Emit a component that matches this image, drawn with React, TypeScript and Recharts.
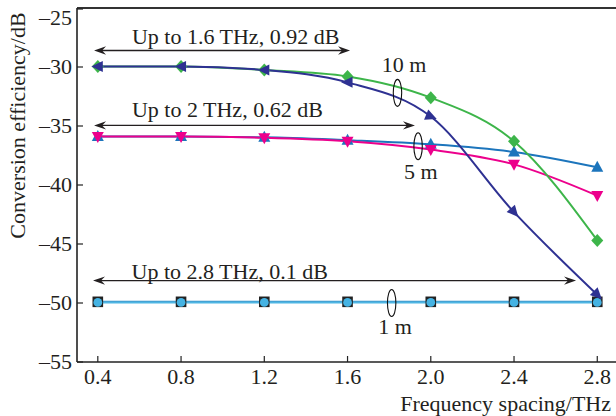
import React from 'react';
import { LineChart, Line, XAxis, YAxis, ReferenceLine, ReferenceDot } from 'recharts';

const freq = [0.4, 0.8, 1.2, 1.6, 2.0, 2.4, 2.8];
const green10m = [-29.95, -29.95, -30.25, -30.8, -32.6, -36.3, -44.7];
const navy10m = [-29.95, -29.95, -30.25, -31.3, -34.2, -42.3, -49.3];
const blue5m = [-35.9, -35.9, -35.95, -36.2, -36.55, -37.2, -38.5];
const magenta5m = [-35.9, -35.9, -36.0, -36.3, -37.0, -38.25, -40.9];
const square1m = [-49.9, -49.9, -49.9, -49.9, -49.9, -49.9, -49.9];
const circle1m = [-49.95, -49.95, -49.95, -49.95, -49.95, -49.95, -49.95];

const yTicks = [-55, -50, -45, -40, -35, -30, -25];

const arrows = [
  { x1: 0.382, x2: 1.612, y: -28.6 },
  { x1: 0.382, x2: 1.924, y: -34.95 },
  { x1: 0.377, x2: 2.698, y: -48.1 },
];
const notes = [
  { text: 'Up to 1.6 THz, 0.92 dB', x: 0.564, y: -28.02 },
  { text: 'Up to 2 THz, 0.62 dB', x: 0.564, y: -34.24 },
  { text: 'Up to 2.8 THz, 0.1 dB', x: 0.562, y: -47.93 },
  { text: '10 m', x: 1.764, y: -30.42 },
  { text: '5 m', x: 1.871, y: -39.46 },
  { text: '1 m', x: 1.748, y: -52.6 },
];
const rings = [
  { x: 1.84, y: -32.19 },
  { x: 1.939, y: -36.72 },
  { x: 1.812, y: -50.0 },
];

const data = freq.map((f, i) => ({
  f,
  g: green10m[i],
  n: navy10m[i],
  b: blue5m[i],
  m: magenta5m[i],
  s: square1m[i],
  c: circle1m[i],
}));

const FONT = '"Liberation Serif", "Times New Roman", serif';
const FS = 22;
const TXT = '#231F20';

const GREEN = '#3DB54A';
const NAVY = '#2E3192';
const BLUE = '#1C75BC';
const MAGENTA = '#EC008C';
const LBLUE1 = '#3A8EC4';
const LBLUE2 = '#4FB6E3';

const TM = 4;
const fmt = (v: number) => (v < 0 ? '\u2013' + Math.abs(v) : String(v));

const YTick = (p: any) => {
  const ax = p.x + TM;
  const v = p.payload.value;
  const off = v === -25 ? 9 : 0;
  return (
    <g>
      <line x1={ax} x2={ax + 6} y1={p.y} y2={p.y} stroke="#222" strokeWidth={1.2} />
      <text x={ax - 5} y={p.y + 7.4 + off} textAnchor="end" fontFamily={FONT} fontSize={FS} fill={TXT}>
        {fmt(v)}
      </text>
    </g>
  );
};

const XTick = (p: any) => {
  const ay = p.y - TM;
  const v = p.payload.value;
  return (
    <g>
      <line x1={p.x} x2={p.x} y1={ay} y2={ay - 6} stroke="#222" strokeWidth={1.2} />
      <text x={p.x} y={ay + 22} textAnchor="middle" fontFamily={FONT} fontSize={FS} fill={TXT}>
        {v.toFixed(1)}
      </text>
    </g>
  );
};

const Diamond = (p: any) => {
  const { cx, cy } = p;
  if (cx == null || cy == null) return null;
  return <path d={`M${cx},${cy - 6.5}L${cx + 6},${cy}L${cx},${cy + 6.5}L${cx - 6},${cy}Z`} fill={GREEN} />;
};

const prevNavy: { x: number; y: number } = { x: 0, y: 0 };
const NavyMark = (p: any) => {
  const { cx, cy, index } = p;
  if (cx == null || cy == null) return null;
  let angle = 180;
  if (index >= 4) {
    angle = (Math.atan2(cy - prevNavy.y, cx - prevNavy.x) * 180) / Math.PI;
  }
  prevNavy.x = cx;
  prevNavy.y = cy;
  return (
    <path
      d={`M${cx + 6.5},${cy}L${cx - 5},${cy - 5.5}L${cx - 5},${cy + 5.5}Z`}
      transform={`rotate(${angle} ${cx} ${cy})`}
      fill={NAVY}
    />
  );
};
const UpTri = (p: any) => {
  const { cx, cy } = p;
  if (cx == null || cy == null) return null;
  return <path d={`M${cx},${cy - 6.5}L${cx + 6},${cy + 4.5}L${cx - 6},${cy + 4.5}Z`} fill={BLUE} />;
};
const DownTri = (p: any) => {
  const { cx, cy } = p;
  if (cx == null || cy == null) return null;
  return <path d={`M${cx},${cy + 6.5}L${cx + 6},${cy - 4.5}L${cx - 6},${cy - 4.5}Z`} fill={MAGENTA} />;
};
const Square = (p: any) => {
  const { cx, cy } = p;
  if (cx == null || cy == null) return null;
  return <rect x={cx - 5.3} y={cy - 5.3} width={10.6} height={10.6} fill="#222" />;
};
const Circle = (p: any) => {
  const { cx, cy } = p;
  if (cx == null || cy == null) return null;
  return <circle cx={cx} cy={cy} r={4.4} fill="#45B3E3" />;
};

const ArrowShape = (p: any) => {
  const { x1, y1, x2, y2 } = p;
  if (x1 == null) return null;
  const L = 12;
  const W = 4.2;
  const head = (tx: number, ty: number, dir: number) =>
    `M${tx},${ty}L${tx - dir * L},${ty - W}L${tx - dir * (L - 4)},${ty}L${tx - dir * L},${ty + W}Z`;
  return (
    <g>
      <line x1={x1 + 4} y1={y1} x2={x2 - 4} y2={y2} stroke={TXT} strokeWidth={1.3} />
      <path d={head(x1, y1, -1)} fill={TXT} />
      <path d={head(x2, y2, 1)} fill={TXT} />
    </g>
  );
};

const YLabel = () => (
  <text x={25} y={125.5} transform="rotate(-90 25 125.5)" textAnchor="middle" fontFamily={FONT} fontSize={FS} fill={TXT}>
    Conversion efficiency/dB
  </text>
);

export default function App() {
  return (
    <div style={{ position: 'absolute', left: 0, top: 0, width: 616, height: 416, background: '#fff' }}>
      <LineChart width={616} height={416} data={data} margin={{ top: 8, right: 0, bottom: 0, left: 0 }}>
        <XAxis
          type="number"
          dataKey="f"
          domain={[0.3, 2.89]}
          ticks={freq}
          allowDataOverflow
          height={54}
          tickSize={0}
          tickMargin={TM}
          tick={<XTick />}
          axisLine={{ stroke: '#222', strokeWidth: 1.6 }}
          tickLine={false}
          label={{ value: 'Frequency spacing/THz', position: 'insideBottomRight', offset: 5, style: { fontFamily: FONT, fontSize: FS, fill: TXT } }}
        />
        <YAxis
          type="number"
          domain={[-55, -25]}
          ticks={yTicks}
          allowDataOverflow
          width={77}
          tickSize={0}
          tickMargin={TM}
          tick={<YTick />}
          axisLine={{ stroke: '#222', strokeWidth: 1.6 }}
          tickLine={false}
          label={<YLabel />}
        />
        <ReferenceLine y={-25} stroke="#333" strokeWidth={2} ifOverflow="visible" />
        {arrows.map((a, i) => (
          <ReferenceLine
            key={'a' + i}
            segment={[{ x: a.x1, y: a.y }, { x: a.x2, y: a.y }]}
            shape={<ArrowShape />}
            ifOverflow="visible"
          />
        ))}
        {rings.map((r, i) => (
          <ReferenceDot
            key={'r' + i}
            x={r.x}
            y={r.y}
            r={1}
            ifOverflow="visible"
            shape={(p: any) => <ellipse cx={p.cx} cy={p.cy} rx={4.2} ry={13.5} fill="none" stroke="#111" strokeWidth={1.1} />}
          />
        ))}
        {notes.map((t, i) => (
          <ReferenceDot
            key={'t' + i}
            x={t.x}
            y={t.y}
            r={1}
            ifOverflow="visible"
            shape={(p: any) => (
              <text x={p.cx} y={p.cy} textAnchor="start" fontFamily={FONT} fontSize={FS} fill={TXT}>
                {t.text}
              </text>
            )}
          />
        ))}
        <Line type="monotone" dataKey="s" stroke={LBLUE1} strokeWidth={2.2} dot={<Square />} isAnimationActive={false} />
        <Line type="monotone" dataKey="c" stroke={LBLUE2} strokeWidth={2} dot={<Circle />} isAnimationActive={false} />
        <Line type="monotone" dataKey="b" stroke={BLUE} strokeWidth={2} dot={<UpTri />} isAnimationActive={false} />
        <Line type="monotone" dataKey="m" stroke={MAGENTA} strokeWidth={2} dot={<DownTri />} isAnimationActive={false} />
        <Line type="monotone" dataKey="g" stroke={GREEN} strokeWidth={2} dot={<Diamond />} isAnimationActive={false} />
        <Line type="monotone" dataKey="n" stroke={NAVY} strokeWidth={2} dot={<NavyMark />} isAnimationActive={false} />
      </LineChart>
    </div>
  );
}
